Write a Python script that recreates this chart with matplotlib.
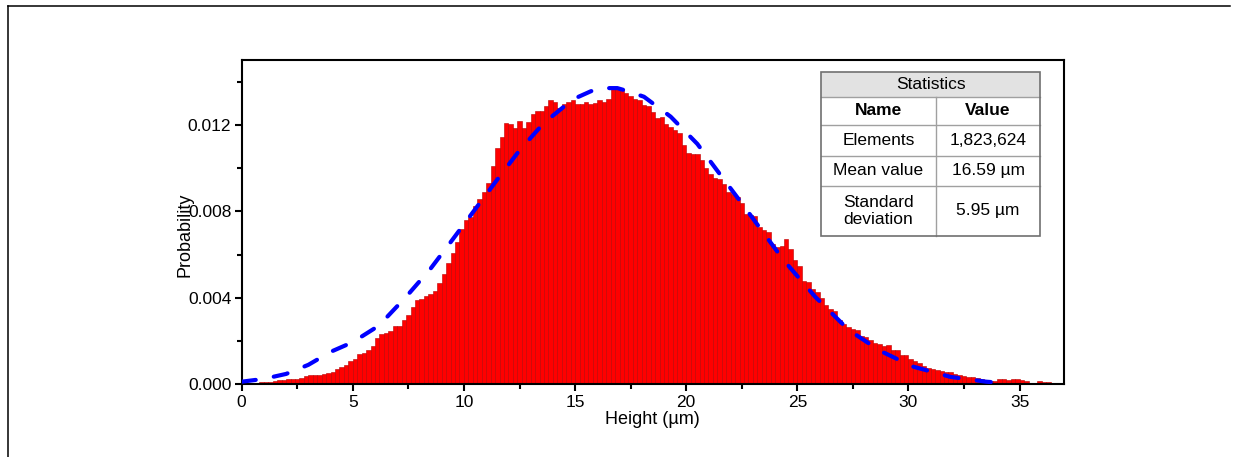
import matplotlib
matplotlib.use('Agg')
import matplotlib.pyplot as plt
import numpy as np
from matplotlib.patches import Rectangle
from matplotlib.lines import Line2D
from matplotlib.ticker import MultipleLocator, FormatStrFormatter

plt.rcParams['font.family'] = ['Liberation Sans', 'DejaVu Sans']

# histogram of heights, bin width 0.2 um, values in units of 1e-3
bin_width = 0.2
prob = [
    0.00, 0.01, 0.02, 0.05, 0.10, 0.11, 0.11, 0.15, 0.20, 0.22,
    0.25, 0.26, 0.26, 0.30, 0.38, 0.45, 0.42, 0.43, 0.48, 0.52,
    0.58, 0.70, 0.80, 0.88, 1.08, 1.16, 1.38, 1.46, 1.60, 1.75,
    2.12, 2.34, 2.37, 2.45, 2.68, 2.70, 2.96, 3.19, 3.56, 3.89,
    3.93, 4.07, 4.18, 4.33, 4.68, 5.09, 5.60, 6.06, 6.56, 7.20,
    7.61, 7.76, 8.26, 8.57, 8.91, 9.32, 10.12, 10.93, 11.44, 12.09,
    12.05, 11.87, 12.18, 11.87, 12.11, 12.48, 12.65, 12.65, 12.87, 13.15,
    13.07, 12.80, 12.95, 13.04, 13.13, 12.96, 12.95, 13.04, 12.95, 13.01,
    13.13, 13.04, 13.20, 13.64, 13.66, 13.64, 13.46, 13.33, 13.20, 13.15,
    12.91, 12.85, 12.60, 12.33, 12.37, 12.06, 11.91, 11.75, 11.63, 11.05,
    10.71, 10.67, 10.67, 10.39, 10.00, 9.74, 9.53, 9.50, 9.27, 8.88,
    8.80, 8.65, 8.39, 7.88, 7.85, 7.77, 7.26, 7.15, 7.05, 6.48,
    6.33, 6.40, 6.71, 6.25, 5.75, 5.47, 4.77, 4.73, 4.42, 4.26,
    4.00, 3.69, 3.46, 3.38, 2.96, 2.80, 2.63, 2.56, 2.52, 2.25,
    2.18, 2.06, 1.90, 1.86, 1.78, 1.83, 1.60, 1.60, 1.36, 1.36,
    1.16, 1.08, 0.98, 0.85, 0.77, 0.70, 0.64, 0.62, 0.59, 0.55,
    0.47, 0.45, 0.40, 0.33, 0.32, 0.30, 0.24, 0.17, 0.16, 0.17,
    0.23, 0.26, 0.22, 0.24, 0.25, 0.18, 0.13, 0.08, 0.07, 0.13,
    0.12, 0.10, 0.07, 0.06, 0.06,
]

# fitted normal curve (1e-3)
fit_x = [0, 1, 2, 3, 4, 5, 6, 6.5, 7.4, 8.5, 9.5, 10.5, 11.5, 12.5, 13.6,
         14.9, 15.7, 16.1, 16.9, 17.4, 18.1, 19.3, 20.5, 21.5, 22.5, 23.5,
         24.4, 25.8, 27.3, 28.7, 30.2, 31.9, 33.5, 34.0]
fit_y = [0.12, 0.25, 0.48, 0.90, 1.50, 1.95, 2.60, 3.07, 4.05, 5.35, 6.71,
         8.09, 9.47, 10.82, 12.09, 13.18, 13.55, 13.70, 13.70, 13.55, 13.30,
         12.38, 11.12, 9.74, 8.37, 6.97, 5.72, 4.05, 2.52, 1.56, 0.82, 0.34,
         0.12, 0.08]

stats_title = 'Statistics'
stats_header = ['Name', 'Value']
stats_rows = [['Elements', '1,823,624'],
              ['Mean value', '16.59 µm'],
              ['Standard\ndeviation', '5.95 µm']]

fig = plt.figure(figsize=(12.47, 4.57), dpi=100)
ax = fig.add_axes([0.1938, 0.1591, 0.6595, 0.7096])

left = np.arange(len(prob)) * bin_width
ax.bar(left, np.array(prob) * 1e-3, width=bin_width, align='edge',
       color='#ff0000', edgecolor='#b80000', linewidth=0.4)
ax.plot(fit_x, np.array(fit_y) * 1e-3, color='#0000ff', lw=3,
        linestyle=(0, (3.4, 4.4)), dash_capstyle='round', zorder=3)

ax.set_xlim(0, 37)
ax.set_ylim(0, 0.015)
ax.xaxis.set_major_locator(MultipleLocator(5))
ax.xaxis.set_minor_locator(MultipleLocator(2.5))
ax.yaxis.set_major_locator(MultipleLocator(0.004))
ax.yaxis.set_minor_locator(MultipleLocator(0.002))
ax.yaxis.set_major_formatter(FormatStrFormatter('%.3f'))
ax.tick_params(which='both', direction='out', width=1.5, labelsize=12.5,
               top=False, right=False)
ax.tick_params(which='major', length=5, pad=2.5)
ax.tick_params(which='minor', length=3.5)
for s in ax.spines.values():
    s.set_linewidth(1.5)

ax.set_xlabel('Height (µm)', fontsize=13, labelpad=1)
ax.set_ylabel('Probability', fontsize=13)
ax.yaxis.set_label_coords(-0.058, 0.46)

# statistics table
tx = [0.7045, 0.8443, 0.9708]
ty = [0.963, 0.886, 0.800, 0.704, 0.612, 0.457]
tr = ax.transAxes
grid = '#a0a0a0'
fs = 12.5
ax.add_patch(Rectangle((tx[0], ty[5]), tx[2] - tx[0], ty[0] - ty[5],
                       transform=tr, facecolor='white', edgecolor='none', zorder=4))
ax.add_patch(Rectangle((tx[0], ty[1]), tx[2] - tx[0], ty[0] - ty[1],
                       transform=tr, facecolor='#e2e2e2', edgecolor='none', zorder=4))
for y in ty[1:5]:
    ax.add_line(Line2D([tx[0], tx[2]], [y, y], transform=tr, color=grid, lw=1, zorder=5))
ax.add_line(Line2D([tx[1], tx[1]], [ty[5], ty[1]], transform=tr, color=grid, lw=1, zorder=5))
ax.add_patch(Rectangle((tx[0], ty[5]), tx[2] - tx[0], ty[0] - ty[5],
                       transform=tr, facecolor='none', edgecolor='#707070', lw=1.2, zorder=6))
ax.text((tx[0] + tx[2]) / 2, (ty[0] + ty[1]) / 2, stats_title, transform=tr,
        ha='center', va='center', fontsize=fs, zorder=7)
for j, h in enumerate(stats_header):
    ax.text((tx[j] + tx[j + 1]) / 2, (ty[1] + ty[2]) / 2, h, transform=tr,
            ha='center', va='center', fontsize=fs, fontweight='bold', zorder=7)
for i, row in enumerate(stats_rows):
    for j, cell in enumerate(row):
        ax.text((tx[j] + tx[j + 1]) / 2, (ty[i + 2] + ty[i + 3]) / 2, cell,
                transform=tr, ha='center', va='center', fontsize=fs,
                linespacing=1.1, zorder=7)

# outer frame of the original figure
fig.add_artist(Line2D([8 / 1247, 1230 / 1247], [1 - 6 / 457, 1 - 6 / 457],
                      transform=fig.transFigure, color='black', lw=1.1))
fig.add_artist(Line2D([8 / 1247, 8 / 1247], [1 - 6 / 457, 0],
                      transform=fig.transFigure, color='black', lw=1.1))

fig.savefig('out.png', dpi=100)
